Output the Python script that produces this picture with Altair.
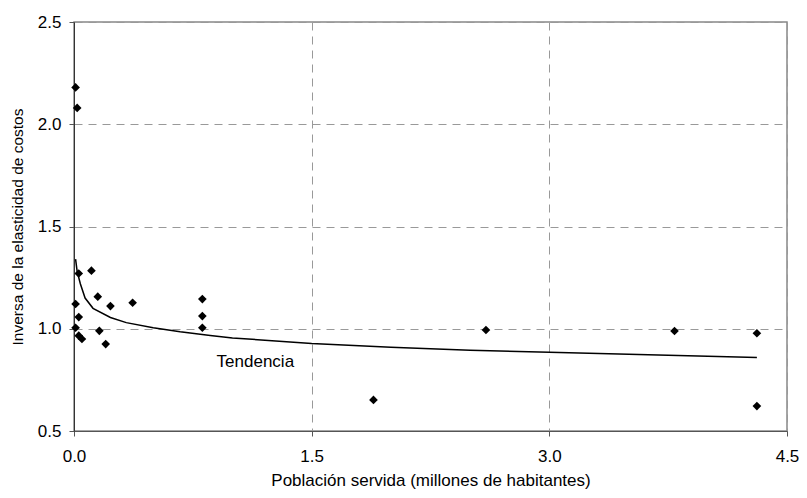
import altair as alt
import pandas as pd

# Observed points
pt_x = [0.01, 0.02, 0.03, 0.11, 0.01, 0.15, 0.23, 0.37, 0.81, 0.81, 0.81,
        0.03, 0.01, 0.03, 0.05, 0.16, 0.20, 1.89, 2.60, 3.79, 4.31, 4.31]
pt_y = [2.18, 2.08, 1.27, 1.284, 1.121, 1.157, 1.111, 1.127, 1.145, 1.062, 1.005,
        1.057, 1.005, 0.966, 0.95, 0.99, 0.925, 0.652, 0.994, 0.989, 0.978, 0.622]

# Trend line
tr_x = [0.01, 0.02, 0.04, 0.07, 0.12, 0.23, 0.33, 0.5, 0.67, 0.86, 1.0,
        1.5, 2.0, 2.5, 3.0, 3.5, 4.0, 4.31]
tr_y = [1.34, 1.28, 1.22, 1.15, 1.10, 1.055, 1.03, 1.005, 0.985, 0.967, 0.955,
        0.928, 0.91, 0.895, 0.885, 0.875, 0.866, 0.860]

label_text = ["Tendencia"]
label_x = [0.9]
label_y = [0.835]

x_ticks = [0.0, 1.5, 3.0, 4.5]
y_ticks = [0.5, 1.0, 1.5, 2.0, 2.5]

pts = pd.DataFrame({"x": pt_x, "y": pt_y})
trend = pd.DataFrame({"x": tr_x, "y": tr_y})
lab = pd.DataFrame({"x": label_x, "y": label_y, "t": label_text})

FONT = "Liberation Sans"

xscale = alt.Scale(domain=[0, 4.5], nice=False, zero=False)
yscale = alt.Scale(domain=[0.5, 2.5], nice=False, zero=False)

xaxis = alt.Axis(values=x_ticks, format=".1f", title="Población servida (millones de habitantes)",
                 grid=True, gridDash=[8, 6], gridColor="#999999", gridWidth=1,
                 domainColor="#555555", tickColor="#555555", tickSize=5,
                 labelFlush=False, labelOverlap=False,
                 labelFont=FONT, labelFontSize=17, labelColor="#000000", labelPadding=12,
                 titleFont=FONT, titleFontSize=17, titleFontWeight="normal", titleColor="#000000",
                 titlePadding=8)
yaxis = alt.Axis(values=y_ticks, format=".1f", title="Inversa de la elasticidad de costos",
                 grid=True, gridDash=[8, 6], gridColor="#999999", gridWidth=1,
                 domainColor="#333333", tickColor="#555555", tickSize=5,
                 labelFlush=False, labelOverlap=False,
                 labelFont=FONT, labelFontSize=17, labelColor="#000000", labelPadding=8,
                 titleFont=FONT, titleFontSize=15.5, titleFontWeight="normal", titleColor="#000000",
                 titlePadding=12)

points = alt.Chart(pts).mark_point(shape="diamond", filled=True, color="black", size=75, opacity=1).encode(
    x=alt.X("x:Q", scale=xscale, axis=xaxis),
    y=alt.Y("y:Q", scale=yscale, axis=yaxis),
)

line = alt.Chart(trend).mark_line(color="black", strokeWidth=1.5).encode(
    x=alt.X("x:Q", scale=xscale),
    y=alt.Y("y:Q", scale=yscale),
)

text = alt.Chart(lab).mark_text(align="left", baseline="middle", font=FONT, fontSize=17, color="black").encode(
    x=alt.X("x:Q", scale=xscale),
    y=alt.Y("y:Q", scale=yscale),
    text="t:N",
)

chart = alt.layer(line, points, text).properties(
    width=713, height=409,
    autosize=alt.AutoSizeParams(type="none"),
    padding={"left": 66, "top": 14, "right": 12, "bottom": 59},
    background="white",
).configure_view(stroke="#888888", strokeWidth=1.5)

chart.save("out.html", embed_options={"renderer": "svg", "actions": False})
